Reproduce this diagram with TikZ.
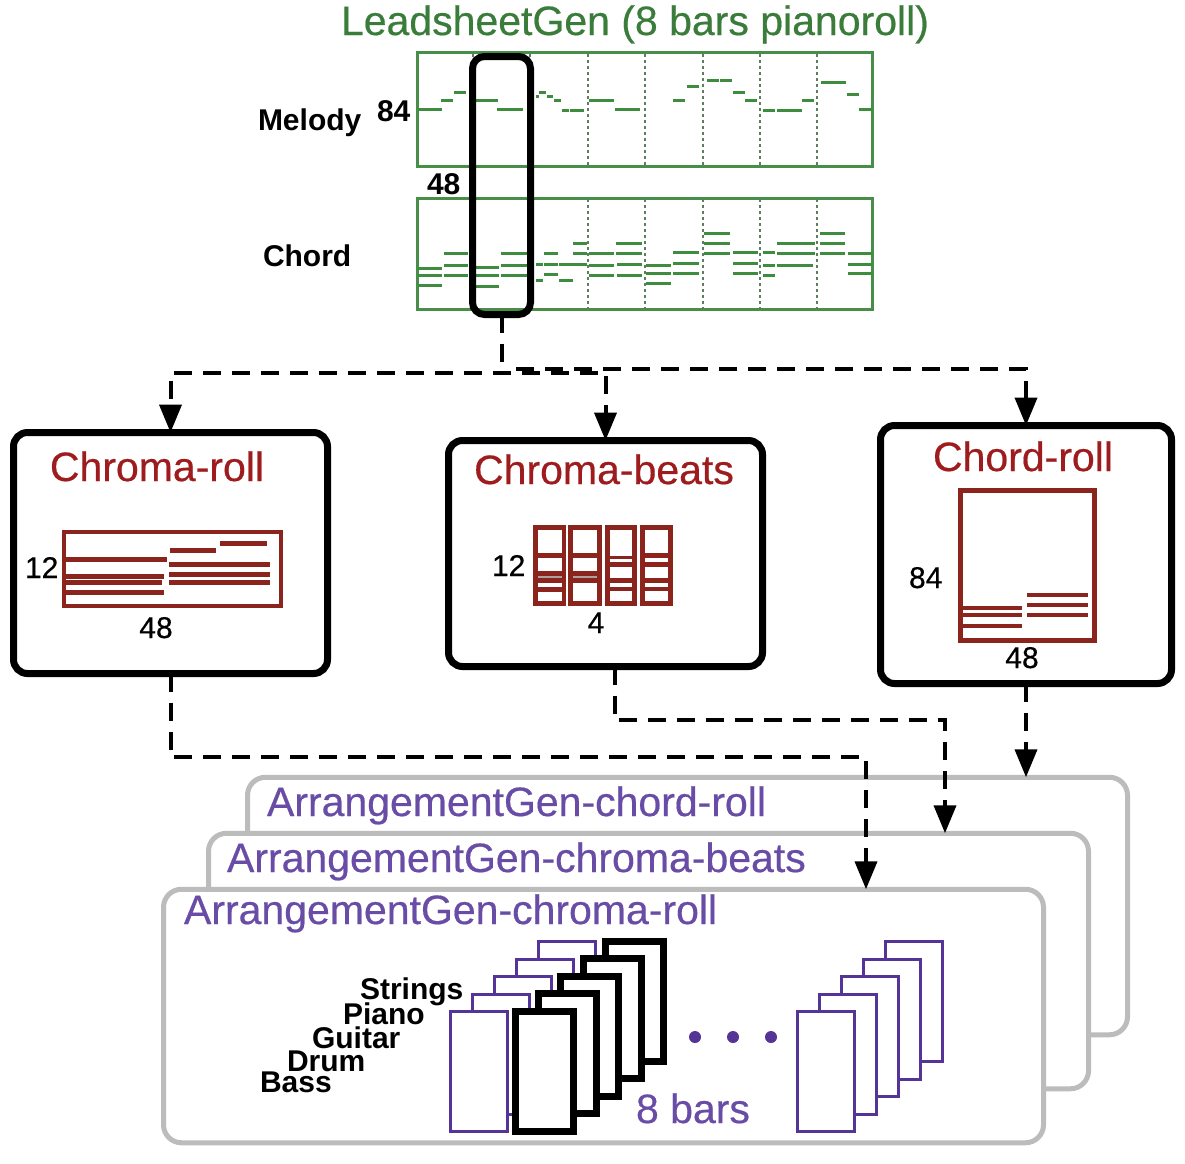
\documentclass[tikz,border=0pt]{standalone}
\usepackage{fontspec}
\setmainfont{Liberation Sans}
\newfontfamily\mediumfont{Liberation Sans}[FakeBold=0.45]
\usetikzlibrary{arrows.meta,calc}
\definecolor{lgreen}{RGB}{62,140,62}
\definecolor{tgreen}{RGB}{58,124,58}
\definecolor{dgreen}{RGB}{72,142,72}
\definecolor{sepgreen}{RGB}{95,125,95}
\definecolor{dred}{RGB}{158,28,30}
\definecolor{bred}{RGB}{140,36,30}
\definecolor{ptext}{RGB}{104,76,166}
\definecolor{pline}{RGB}{84,52,150}
\definecolor{gbox}{RGB}{188,188,188}
\definecolor{lgray}{RGB}{175,160,160}
\begin{document}
\begin{tikzpicture}[x=1pt,y=-1pt,
  every node/.style={inner sep=0pt,outer sep=0pt},
  t41/.style={font=\fontsize{41}{41}\mediumfont},
  bl30/.style={font=\fontsize{30}{30}\selectfont\bfseries},
  n30/.style={font=\fontsize{30}{30}\mediumfont},
  pianobox/.style={draw=dgreen,line width=3pt,rectangle,minimum width=455pt},
  barsep/.style={draw=sepgreen,line width=1.5pt,dash pattern=on 3pt off 3pt},
  mnote/.style={draw=lgreen,line width=3pt},
  repbox/.style={draw=black,line width=7pt,rounded corners=14pt,rectangle,fill=white},
  arrbox/.style={draw=gbox,line width=5pt,rounded corners=18pt,rectangle,fill=white,minimum width=880pt},
  dl/.style={draw=black,line width=4pt,dash pattern=on 18pt off 11pt},
  tip/.style={-{Triangle[length=28pt,width=22pt]}},
  rline/.style={draw=bred,line width=5pt},
  prect/.style={draw=pline,line width=3pt,fill=white},
  krect/.style={draw=black,line width=7pt,fill=white}
]
\useasboundingbox (0,0) rectangle (1185,1163);
\fill[white] (0,0) rectangle (1185,1163);

% ---------- LeadsheetGen ----------
\node[t41,text=tgreen,anchor=base] (title) at (635,35) {LeadsheetGen (8 bars pianoroll)};
\node[pianobox,minimum height=114pt] (mel) at (645,109.5) {};
\node[pianobox,minimum height=111pt] (chd) at (645,253.5) {};
\foreach \x in {473,530,588,645,703,760,817}{
  \draw[barsep] (\x,54) -- (\x,165);
  \draw[barsep] (\x,199) -- (\x,308);
}
\foreach \a/\b/\y in {418/442/109,441/453/100,454/466/92,476/498/100,497/523/109,536/539/96,539/546/92,547/553/96,554/561/100,562/569/110,570/584/110,589/614/100,615/640/109,673/685/100,687/699/86,707/719/80,720/732/80,733/745/92,745/757/100,763/775/110,777/802/110,802/814/100,821/833/82,833/846/82,847/859/94,859/872/109}
  \draw[mnote] (\a,\y) -- (\b,\y);
\foreach \a/\b/\y in {418/442/268,418/442/275,418/442/285,444/468/253,444/468/265,444/468/275,476/499/267,476/499/275,476/499/286,501/527/253,501/527/265,501/527/275,536/543/264,536/543/280,544/558/253,544/558/264,544/558/274,559/587/264,559/573/280,573/587/243,573/587/253,589/614/253,589/614/265,589/614/275,616/642/243,616/642/253,617/642/264,617/642/275,646/671/265,646/671/273,646/671/283,673/699/252,673/699/263,673/699/273,704/730/233,704/730/243,704/730/253,733/758/252,733/758/263,733/758/273,763/775/252,763/775/265,763/775/275,777/815/243,777/815/253,777/813/265,820/845/233,820/845/243,820/845/253,848/872/253,848/872/264,848/872/273}
  \draw[mnote] (\a,\y) -- (\b,\y);
\node[draw=black,line width=7pt,rounded corners=12pt,rectangle,minimum width=58pt,minimum height=258pt] (sel) at (501.5,185.5) {};
\node[bl30,anchor=base west] (lmel) at (258,130) {Melody};
\node[bl30,anchor=base west] (l84) at (377,121) {84};
\node[bl30,anchor=base west] (l48) at (427,194) {48};
\node[bl30,anchor=base west] (lchd) at (263,266) {Chord};

% ---------- representation boxes ----------
\node[repbox,minimum width=314pt,minimum height=241pt] (cr) at (170.5,553) {};
\node[repbox,minimum width=314pt,minimum height=226pt] (cb) at (605.5,553.5) {};
\node[repbox,minimum width=291pt,minimum height=258pt] (chr) at (1026,554.5) {};

% chroma-roll
\node[t41,text=dred,anchor=base] (tcr) at (157,481) {Chroma-roll};
\draw[draw=bred,line width=4pt] (64,532) rectangle (281,606);
\foreach \a/\b/\y in {220/267/543,170/216/550,66/167/559,169/270/564,66/164/576,169/270/574,66/162/582,169/270/582,66/164/592}
  \draw[rline] (\a,\y) -- (\b,\y);
\node[n30,anchor=base west] (cr12) at (25,578) {12};
\node[n30,anchor=base] (cr48) at (156,638) {48};

% chroma-beats
\node[t41,text=dred,anchor=base] (tcb) at (604,484) {Chroma-beats};
\foreach \l/\r in {533/566,568/602,605/637,640/673}
  \fill[bred] (\l,525) rectangle (\r,606);
\foreach \a/\b in {530/553,558/571,583/587,592/601}
  \fill[white] (538,\a) rectangle (561.5,\b);
\foreach \a/\b in {530/553,558/571,583/601}
  \fill[white] (573,\a) rectangle (597,\b);
\foreach \a/\b in {530/556,559/562,567/578,583/587,591/601}
  \fill[white] (610,\a) rectangle (632,\b);
\foreach \a/\b in {530/553,558/562,567/578,583/587,591/601}
  \fill[white] (645,\a) rectangle (668,\b);
\draw[lgray,line width=1.5pt] (538,577) -- (561.5,577) (573,577) -- (597,577);
\node[n30,anchor=base west] (cb12) at (492,576) {12};
\node[n30,anchor=base] (cb4) at (596,633) {4};

% chord-roll
\node[t41,text=dred,anchor=base] (tchr) at (1023,471) {Chord-roll};
\draw[draw=bred,line width=5pt] (960.5,490.5) rectangle (1094.5,640.5);
\foreach \a/\b/\y in {963/1022/608,963/1022/615,963/1022/626,1027/1088/595,1027/1088/605,1027/1088/615}
  \draw[draw=bred,line width=4pt] (\a,\y) -- (\b,\y);
\node[n30,anchor=base west] (ch84) at (909,588) {84};
\node[n30,anchor=base] (ch48) at (1022,668) {48};

% top connectors
\coordinate (j) at (501.5,372);
\coordinate (hl) at (598,373);
\coordinate (hr) at (516,369);
\coordinate (hb) at (605.5,376);
\draw[dl] (sel.south) -- (j);
\draw[dl,tip] (hl) -| (cr.north);
\draw[dl,tip] (hr) -| (chr.north);
\draw[dl,tip] (hb) -- (cb.north);

% ---------- ArrangementGen boxes ----------
\node[arrbox,minimum height=257.5pt] (ab) at (687.5,906) {};
\node[arrbox,minimum height=255.5pt] (am) at (648.5,961) {};
\node[arrbox,minimum height=253.5pt] (af) at (603.5,1016) {};
\node[t41,text=ptext,anchor=base west] (tab) at (267,816) {ArrangementGen-chord-roll};
\node[t41,text=ptext,anchor=base west] (tam) at (227,872) {ArrangementGen-chroma-beats};
\node[t41,text=ptext,anchor=base west] (taf) at (184,924) {ArrangementGen-chroma-roll};

% bottom connectors
\coordinate (k1) at (866,757);
\coordinate (k2) at (945,720);
\draw[dl,tip] (cr.south) |- (k1) -- (k1 |- af.north);
\draw[dl,tip] ($(cb.south)+(9,0)$) |- (k2) -- (k2 |- am.north);
\draw[dl,tip] (chr.south) -- (chr.south |- ab.north);

% instrument stacks
\foreach \i in {4,3,2,1,0}{
  \draw[prect] ({450+22*\i},{1011.5-17.5*\i}) rectangle ++(57,120);
}
\foreach \i in {4,3,2,1,0}{
  \draw[krect] ({515.5+22.5*\i},{1011.5-17.6*\i}) rectangle ++(58,120);
}
\foreach \i in {4,3,2,1,0}{
  \draw[prect] ({797.5+22*\i},{1011.5-17.5*\i}) rectangle ++(57,120);
}
\foreach \x in {695,733,771} \fill[pline] (\x,1037) circle (6);
\node[t41,text=ptext,anchor=base west] (bars) at (636,1123) {8 bars};
\node[bl30,anchor=base west] (istr) at (360,999) {Strings};
\node[bl30,anchor=base west] (ipia) at (343,1024) {Piano};
\node[bl30,anchor=base west] (igui) at (312,1048) {Guitar};
\node[bl30,anchor=base west] (idru) at (287,1071) {Drum};
\node[bl30,anchor=base west] (ibas) at (260,1092) {Bass};
\end{tikzpicture}
\end{document}
